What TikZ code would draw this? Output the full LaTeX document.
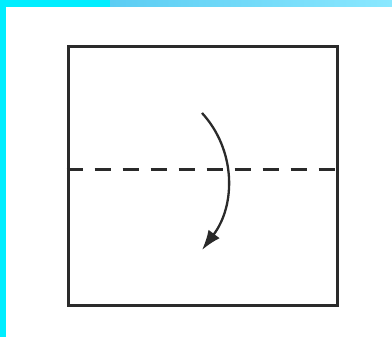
\documentclass[tikz,border=0pt]{standalone}
\usetikzlibrary{arrows.meta, calc}
\definecolor{cFrame}{HTML}{00EEFF}
\definecolor{cBarMid}{HTML}{5CCDF3}
\definecolor{cBarEnd}{HTML}{8AE8FF}
\definecolor{cInk}{HTML}{2A2A2A}
\tikzset{
  sheet/.style={draw=cInk, line width=3pt, inner sep=0pt,
    minimum width=269pt, minimum height=259pt},
  foldline/.style={draw=cInk, line width=3pt, dash pattern=on 16pt off 12pt},
  foldarrow/.style={-{Latex[length=20pt, width=14pt]}, line width=2.3pt, draw=cInk},
}
\begin{document}
\begin{tikzpicture}[x=1pt, y=-1pt]

  % ----------------------------------------------------------------
  % Background and coloured frame
  % ----------------------------------------------------------------
  \useasboundingbox (0,0) rectangle (392,337);
  \fill[white] (0,0) rectangle (392,337);
  \fill[cFrame] (0,0) rectangle (6,337);
  \fill[cFrame] (0,0) rectangle (110,7);
  \shade[left color=cBarMid, right color=cBarEnd] (110,0) rectangle (392,7);

  % ----------------------------------------------------------------
  % Square sheet with fold line
  % ----------------------------------------------------------------
  \node[sheet] (paper) at (202.5,176.5) {};
  \coordinate (foldL) at ($(paper.north west)!0.475!(paper.south west)$);
  \coordinate (foldR) at ($(paper.north east)!0.475!(paper.south east)$);
  \draw[foldline] (foldL) -- (foldR);

  % ----------------------------------------------------------------
  % Fold arrow
  % ----------------------------------------------------------------
  \coordinate (arrS) at (202,113);
  \coordinate (arrE) at (202,250);
  \draw[foldarrow] (arrS) .. controls (236,150) and (236,205) .. (arrE);

\end{tikzpicture}
\end{document}
